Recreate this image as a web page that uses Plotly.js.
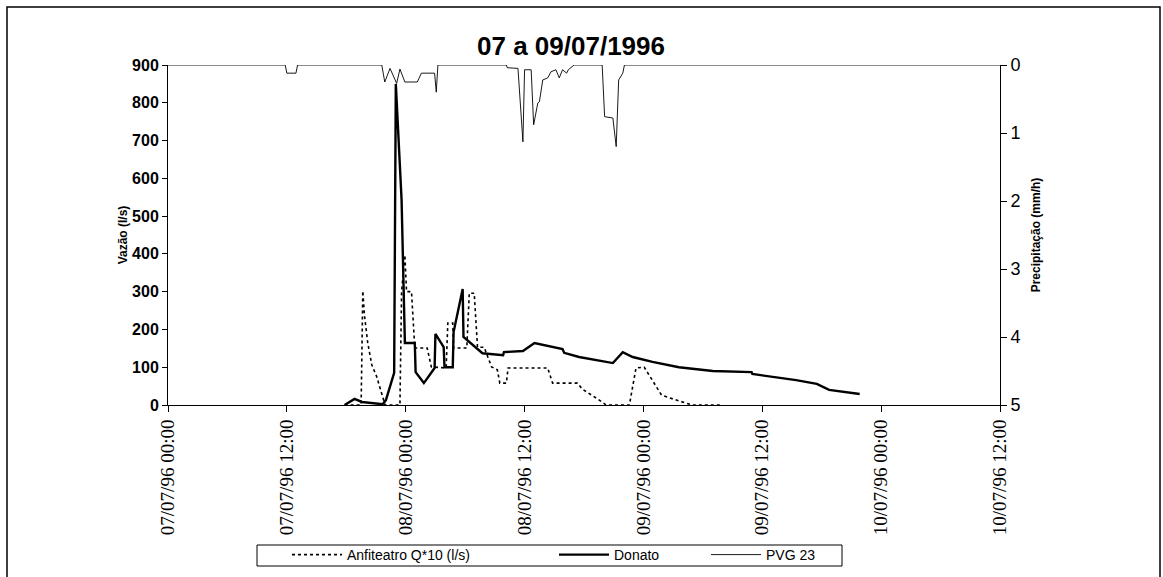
<!DOCTYPE html>
<html>
<head>
<meta charset="utf-8">
<script src="https://cdn.plot.ly/plotly-3.0.1.min.js"></script>
<style>
html,body{margin:0;padding:0;background:#fff;}
#chart{width:1163px;height:577px;}
</style>
</head>
<body>
<div id="chart"></div>
<script>
// Donato (l/s)
const donatoTime = [
 '1996-07-07 17:50','1996-07-07 18:50','1996-07-07 19:35','1996-07-07 21:40','1996-07-07 22:00',
 '1996-07-07 22:50','1996-07-07 23:00','1996-07-07 23:35','1996-07-07 23:55','1996-07-08 00:55',
 '1996-07-08 01:00','1996-07-08 01:50','1996-07-08 02:55','1996-07-08 03:00','1996-07-08 03:50',
 '1996-07-08 03:55','1996-07-08 04:45','1996-07-08 04:50','1996-07-08 05:45','1996-07-08 05:50',
 '1996-07-08 07:45','1996-07-08 09:50','1996-07-08 09:55','1996-07-08 11:50','1996-07-08 13:00',
 '1996-07-08 15:50','1996-07-08 16:00','1996-07-08 17:30','1996-07-08 20:55','1996-07-08 21:55',
 '1996-07-08 22:55','1996-07-09 00:55','1996-07-09 03:35','1996-07-09 07:00','1996-07-09 10:55',
 '1996-07-09 11:00','1996-07-09 15:25','1996-07-09 17:30','1996-07-09 18:45','1996-07-09 21:50'
];
const donatoQ = [
 0,16,8,2,13,
 85,850,542,164,164,
 87,58,98,188,153,
 100,100,193,307,180,
 137,132,140,143,164,
 148,138,127,111,140,
 127,114,100,90,87,
 82,66,56,40,29
];

// Anfiteatro Q*10 (l/s)
const anfiTime = [
 '1996-07-07 17:50','1996-07-07 19:30','1996-07-07 19:40','1996-07-07 19:50','1996-07-07 20:10',
 '1996-07-07 20:35','1996-07-07 21:05','1996-07-07 21:40','1996-07-07 21:55','1996-07-07 23:25',
 '1996-07-07 23:35','1996-07-07 23:55','1996-07-08 00:05','1996-07-08 00:35','1996-07-08 00:55',
 '1996-07-08 02:10','1996-07-08 02:35','1996-07-08 04:05','1996-07-08 04:15','1996-07-08 04:45',
 '1996-07-08 04:50','1996-07-08 06:10','1996-07-08 06:25','1996-07-08 06:55','1996-07-08 07:15',
 '1996-07-08 07:55','1996-07-08 08:40','1996-07-08 09:15','1996-07-08 09:30','1996-07-08 10:10',
 '1996-07-08 10:20','1996-07-08 14:20','1996-07-08 14:50','1996-07-08 17:20','1996-07-08 17:50',
 '1996-07-08 19:15','1996-07-08 20:15','1996-07-08 22:35','1996-07-08 23:15','1996-07-09 00:05',
 '1996-07-09 01:50','1996-07-09 03:20','1996-07-09 04:55','1996-07-09 08:00'
];
const anfiQ = [
 0,0,302,238,164,
 106,74,21,0,0,
 300,397,300,300,151,
 151,101,98,217,217,
 151,151,296,296,153,
 153,101,93,58,58,
 98,98,58,58,42,
 18,0,0,98,100,
 26,13,0,0
];

// PVG 23 precipitation (mm/h)
const pvgTime = [
 '1996-07-07 00:00','1996-07-07 11:50','1996-07-07 12:00','1996-07-07 12:55','1996-07-07 13:05',
 '1996-07-07 21:35','1996-07-07 21:53','1996-07-07 22:25','1996-07-07 23:05','1996-07-07 23:25',
 '1996-07-07 23:55','1996-07-08 01:10','1996-07-08 01:35','1996-07-08 02:55','1996-07-08 03:05',
 '1996-07-08 03:15','1996-07-08 10:10','1996-07-08 10:15','1996-07-08 11:20','1996-07-08 11:50',
 '1996-07-08 12:00','1996-07-08 12:40','1996-07-08 12:55','1996-07-08 13:20','1996-07-08 13:30',
 '1996-07-08 13:50','1996-07-08 14:20','1996-07-08 14:40','1996-07-08 15:10','1996-07-08 15:30',
 '1996-07-08 15:50','1996-07-08 16:15','1996-07-08 16:25','1996-07-08 17:00','1996-07-08 19:50',
 '1996-07-08 20:05','1996-07-08 20:55','1996-07-08 21:15','1996-07-08 21:30','1996-07-08 21:55',
 '1996-07-08 22:05','1996-07-10 12:00'
];
const pvgP = [
 0,0,0.12,0.12,0,
 0,0.25,0.05,0.27,0.06,
 0.25,0.25,0.12,0.12,0.4,
 0,0,0.04,0.05,1.13,
 0.07,0.07,0.88,0.56,0.54,
 0.22,0.19,0.1,0.07,0.19,
 0.07,0.12,0.07,0,0,
 0.76,0.78,1.2,0.22,0.12,
 0,0
];

const titleText = '07 a 09/07/1996';
const yTitle = 'Vazão (l/s)';
const y2Title = 'Precipitação (mm/h)';

const traces = [
 {x: anfiTime, y: anfiQ, name: 'Anfiteatro Q*10 (l/s)', type: 'scatter', mode: 'lines',
  line: {color: '#000', width: 1.6, dash: 'dot'}, yaxis: 'y', legend: 'legend'},
 {x: donatoTime, y: donatoQ, name: 'Donato', type: 'scatter', mode: 'lines',
  line: {color: '#000', width: 2.4}, yaxis: 'y', legend: 'legend2'},
 {x: pvgTime, y: pvgP, name: 'PVG 23', type: 'scatter', mode: 'lines',
  line: {color: '#000', width: 0.9}, yaxis: 'y2', legend: 'legend3'}
];

const L = 168, R = 1000, T = 65, B = 405;
const pw = R - L, ph = B - T;
const px = v => (v - L) / pw;
const py = v => (B - v) / ph;

const legendFont = {family: 'Arial, Liberation Sans', size: 14, color: '#000'};
function leg(xpix) {
 return {orientation: 'h', x: px(xpix), xanchor: 'left', y: py(555), yanchor: 'middle',
  borderwidth: 0, bgcolor: 'rgba(0,0,0,0)', font: legendFont, itemwidth: 50};
}

const layout = {
 width: 1163, height: 577,
 margin: {l: L, r: 1163 - R, t: T, b: 577 - B, pad: 0, autoexpand: false},
 paper_bgcolor: '#fff', plot_bgcolor: '#fff',
 showlegend: true,
 title: {text: '<b>' + titleText + '</b>', font: {family: 'Arial, Liberation Sans', size: 26, color: '#000'},
  x: 571/1163, xref: 'container', xanchor: 'center', y: 1 - 46/577, yanchor: 'middle'},
 xaxis: {
  type: 'date', automargin: false,
  range: ['1996-07-07 00:00', '1996-07-10 12:00'],
  dtick: 43200000, tick0: '1996-07-07 00:00',
  tickformat: '%d/%m/%y %H:%M', tickangle: -90,
  tickfont: {family: 'Liberation Serif, Times New Roman, serif', size: 19, color: '#000'},
  ticks: 'outside', ticklen: 6, tickcolor: '#000', tickwidth: 1,
  showline: true, linecolor: '#000', linewidth: 1, mirror: false,
  showgrid: false, zeroline: false
 },
 yaxis: {
  automargin: false,
  range: [0, 900], dtick: 100, tick0: 0,
  tickfont: {family: 'Arial, Liberation Sans', size: 16, color: '#000', weight: 'bold'},
  ticks: 'outside', ticklen: 5, tickcolor: '#000',
  showline: true, linecolor: '#000', linewidth: 1,
  showgrid: false, zeroline: false,
  title: {text: '<b>' + yTitle + '</b>', font: {family: 'Arial, Liberation Sans', size: 12, color: '#000'}}
 },
 yaxis2: {
  automargin: false,
  overlaying: 'y', side: 'right',
  range: [5, 0], dtick: 1, tick0: 0,
  tickfont: {family: 'Arial, Liberation Sans', size: 18, color: '#000'},
  ticks: 'outside', ticklen: 6, tickcolor: '#000',
  showline: true, linecolor: '#000', linewidth: 1,
  showgrid: false, zeroline: false,
  title: {text: '<b>' + y2Title + '</b>', font: {family: 'Arial, Liberation Sans', size: 12, color: '#000'}}
 },
 legend: leg(287),
 legend2: leg(554),
 legend3: leg(706),
 shapes: [
  {type: 'rect', xref: 'paper', yref: 'paper',
   x0: px(7), x1: px(1160), y0: py(620), y1: py(7),
   line: {color: '#000', width: 1.5}, fillcolor: 'rgba(0,0,0,0)', layer: 'below'},
  {type: 'rect', xref: 'paper', yref: 'paper',
   x0: px(257), x1: px(842), y0: py(566), y1: py(545),
   line: {color: '#000', width: 1}, fillcolor: 'rgba(0,0,0,0)', layer: 'below'}
 ]
};

Plotly.newPlot('chart', traces, layout, {displayModeBar: false, staticPlot: true});
</script>
</body>
</html>
